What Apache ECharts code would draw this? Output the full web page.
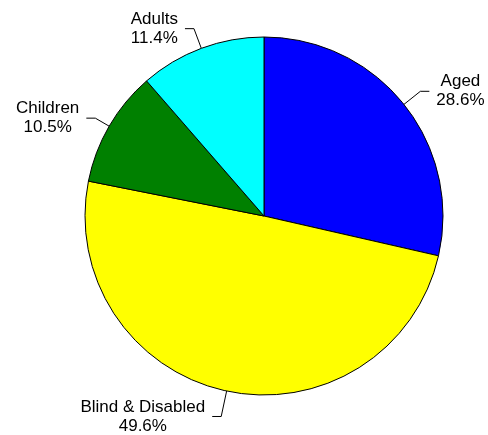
<!DOCTYPE html>
<html>
<head>
<meta charset="utf-8">
<script src="https://cdn.jsdelivr.net/npm/echarts@6/dist/echarts.min.js"></script>
<style>html,body{margin:0;padding:0;background:#fff;}#c{width:488px;height:435px;}</style>
</head>
<body>
<div id="c"></div>
<script>
const categories = ['Aged', 'Blind & Disabled', 'Children', 'Adults'];
const values = [28.6, 49.6, 10.5, 11.4];
const colors = ['#0000FF', '#FFFF00', '#008000', '#00FFFF'];
const leaderLengths = [21, 26, 16, 21];

const chart = echarts.init(document.getElementById('c'), null, {renderer: 'canvas'});
chart.setOption({
  animation: false,
  backgroundColor: '#ffffff',
  series: [{
    type: 'pie',
    center: [264, 216],
    radius: 179,
    startAngle: 90,
    clockwise: true,
    avoidLabelOverlap: false,
    data: categories.map((c, i) => ({
      name: c, value: values[i],
      itemStyle: {color: colors[i]},
      labelLine: {length: leaderLengths[i]}
    })),
    itemStyle: {borderColor: '#000', borderWidth: 1},
    label: {
      show: true,
      position: 'outside',
      formatter: p => p.name + '\n' + p.value.toFixed(1) + '%',
      fontFamily: 'Liberation Sans, Arial, sans-serif',
      fontSize: 17,
      lineHeight: 19,
      color: '#000',
      distanceToLabelLine: 7
    },
    labelLine: {
      show: true,
      length: 21,
      length2: 9,
      lineStyle: {color: '#000', width: 1}
    },
    emphasis: {disabled: true},
    labelLayout: function (params) {
      const r = params.labelRect;
      return {
        x: r.x + r.width / 2,
        y: r.y + r.height / 2,
        align: 'center',
        verticalAlign: 'middle',
        labelLinePoints: params.labelLinePoints
      };
    }
  }]
});
</script>
</body>
</html>
